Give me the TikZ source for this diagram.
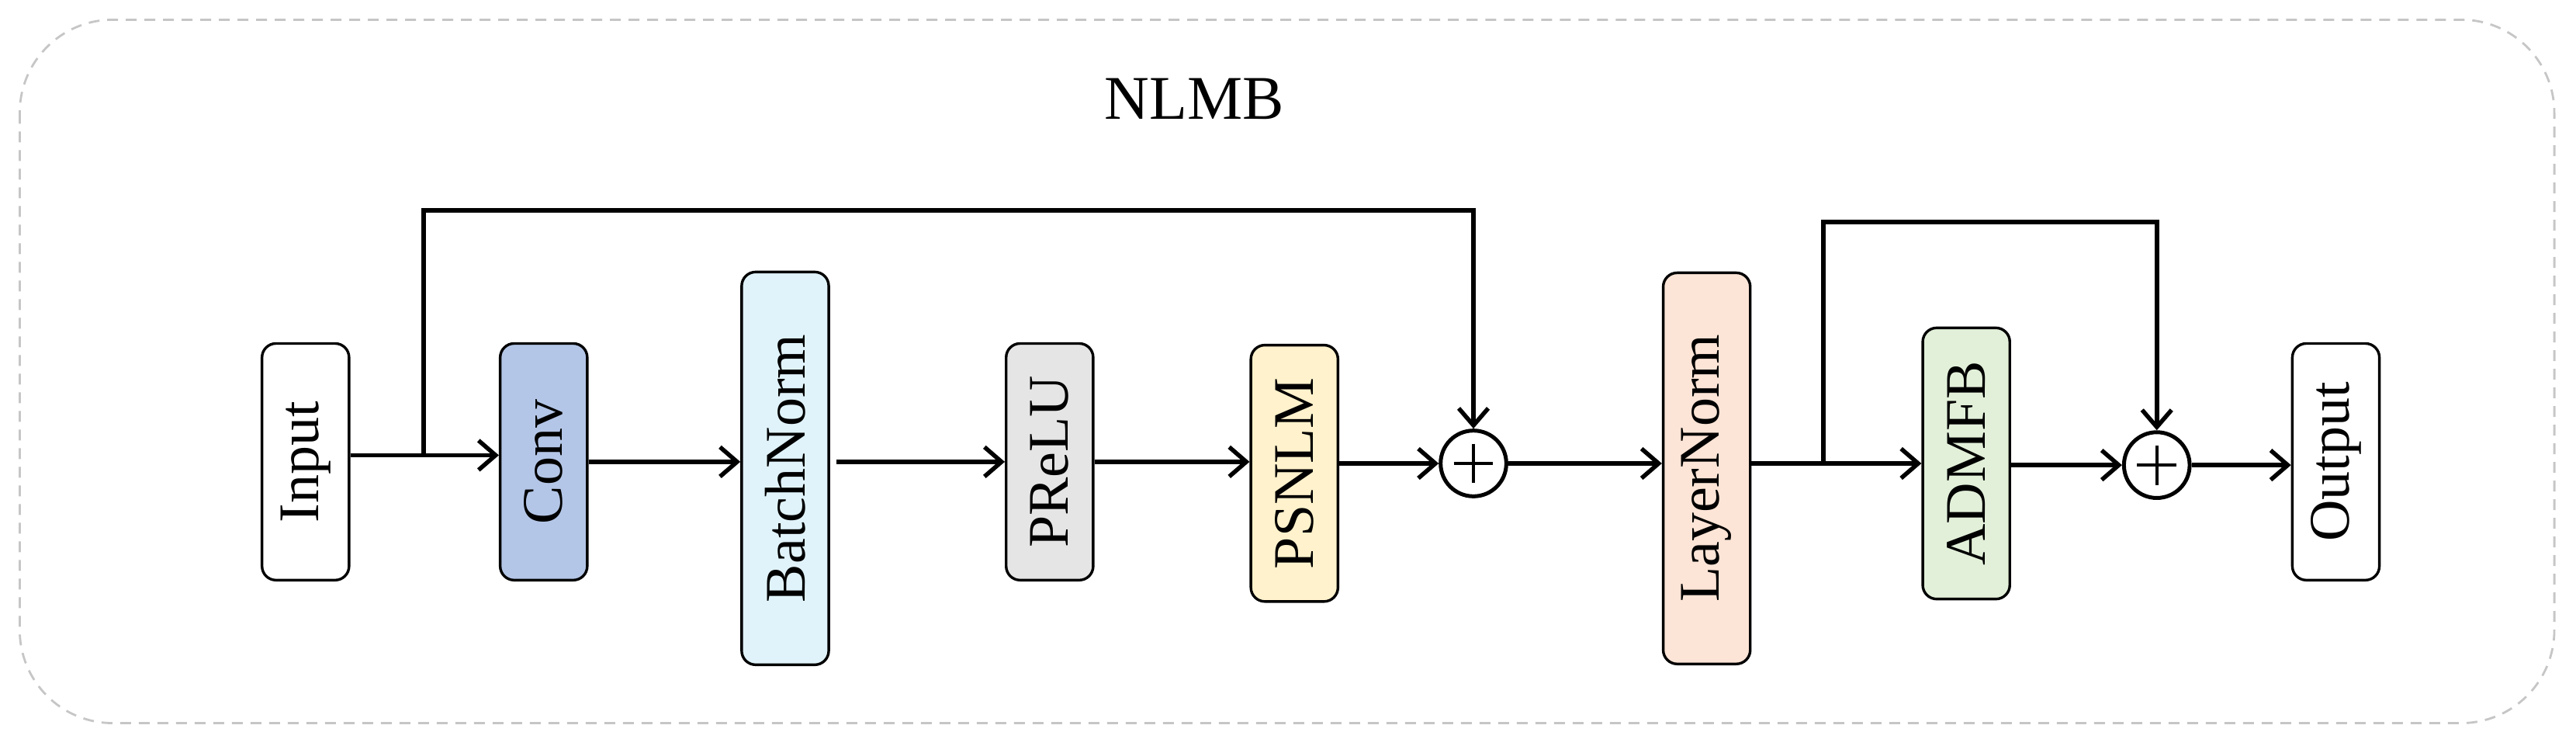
\documentclass[tikz,border=0pt]{standalone}
\usepackage{fontspec}
\setmainfont{Liberation Serif}
\usetikzlibrary{arrows.meta}
\begin{document}
\begin{tikzpicture}[x=2.117pt,y=-2.117pt,
  blk/.style={draw,line width=3.4pt,rounded corners=18pt,rotate=90,inner sep=0pt,
    minimum height=53*2.117pt,font=\fontsize{74}{84}\selectfont},
  arr/.style={line width=5.5pt,-{Straight Barb[length=22pt,width=38pt,line width=5.5pt]}},
  ln/.style={line width=5.5pt},
  add/.style={draw,circle,line width=5pt,minimum size=40*2.117pt,inner sep=0pt}]
\useasboundingbox (0,0) rectangle (1568.2,453.5);
\draw[gray!45,line width=2.8pt,dash pattern=on 14pt off 10pt,rounded corners=120pt] (12,12) rectangle (1555,440);
\node[font=\fontsize{80}{90}\selectfont] (t) at (727,60) {NLMB};
\node[blk,minimum width=144*2.117pt] (in) at (186,281) {Input};
\node[blk,minimum width=144*2.117pt,fill={rgb,255:red,180;green,198;blue,231}] (conv) at (331,281) {Conv};
\node[blk,minimum width=239*2.117pt,fill={rgb,255:red,224;green,243;blue,250}] (bn) at (478,285) {BatchNorm};
\node[blk,minimum width=144*2.117pt,fill={rgb,255:red,229;green,229;blue,229}] (pr) at (639,281) {PReLU};
\node[blk,minimum width=156*2.117pt,fill={rgb,255:red,255;green,242;blue,204}] (ps) at (788,288) {PSNLM};
\node[add] (a1) at (897,282) {};
\node[blk,minimum width=238*2.117pt,fill={rgb,255:red,252;green,228;blue,214}] (lnm) at (1039,285) {LayerNorm};
\node[blk,minimum width=165*2.117pt,fill={rgb,255:red,226;green,240;blue,217}] (ad) at (1197,282) {ADMFB};
\node[add] (a2) at (1313,283) {};
\node[blk,minimum width=144*2.117pt] (out) at (1422,281) {Output};
\draw[line width=4pt] (a1.center) +(0,-12) -- +(0,12) (a1.center) +(-12,0) -- +(12,0)
  (a2.center) +(0,-12) -- +(0,12) (a2.center) +(-12,0) -- +(12,0);
\coordinate (s1) at (258,277);
\coordinate (s2) at (1110,282);
\draw[arr] (in.south) ++(0,-4) coordinate (q) -- (conv.north|-q);
\draw[arr] (conv) -- (bn.north|-conv);
\draw[arr] (bn.south|-pr) ++(4,0) -- (pr.north);
\draw[arr] (pr.south) -- (ps.north|-pr);
\draw[arr] (ps.south|-a1) -- (a1);
\draw[arr] (a1) -- (lnm.north|-a1);
\draw[arr] (lnm.south|-s2) -- (ad.north|-s2);
\draw[arr] (ad.south|-a2) -- (a2);
\draw[arr] (a2) -- (out.north|-a2);
\draw[ln] (s1) -- (258,128) -| (897,240);
\draw[arr] (897,239) -- (a1.north);
\draw[ln] (s2) -- (1110,135) -| (1313,240);
\draw[arr] (1313,239) -- (a2.north);
\end{tikzpicture}
\end{document}
